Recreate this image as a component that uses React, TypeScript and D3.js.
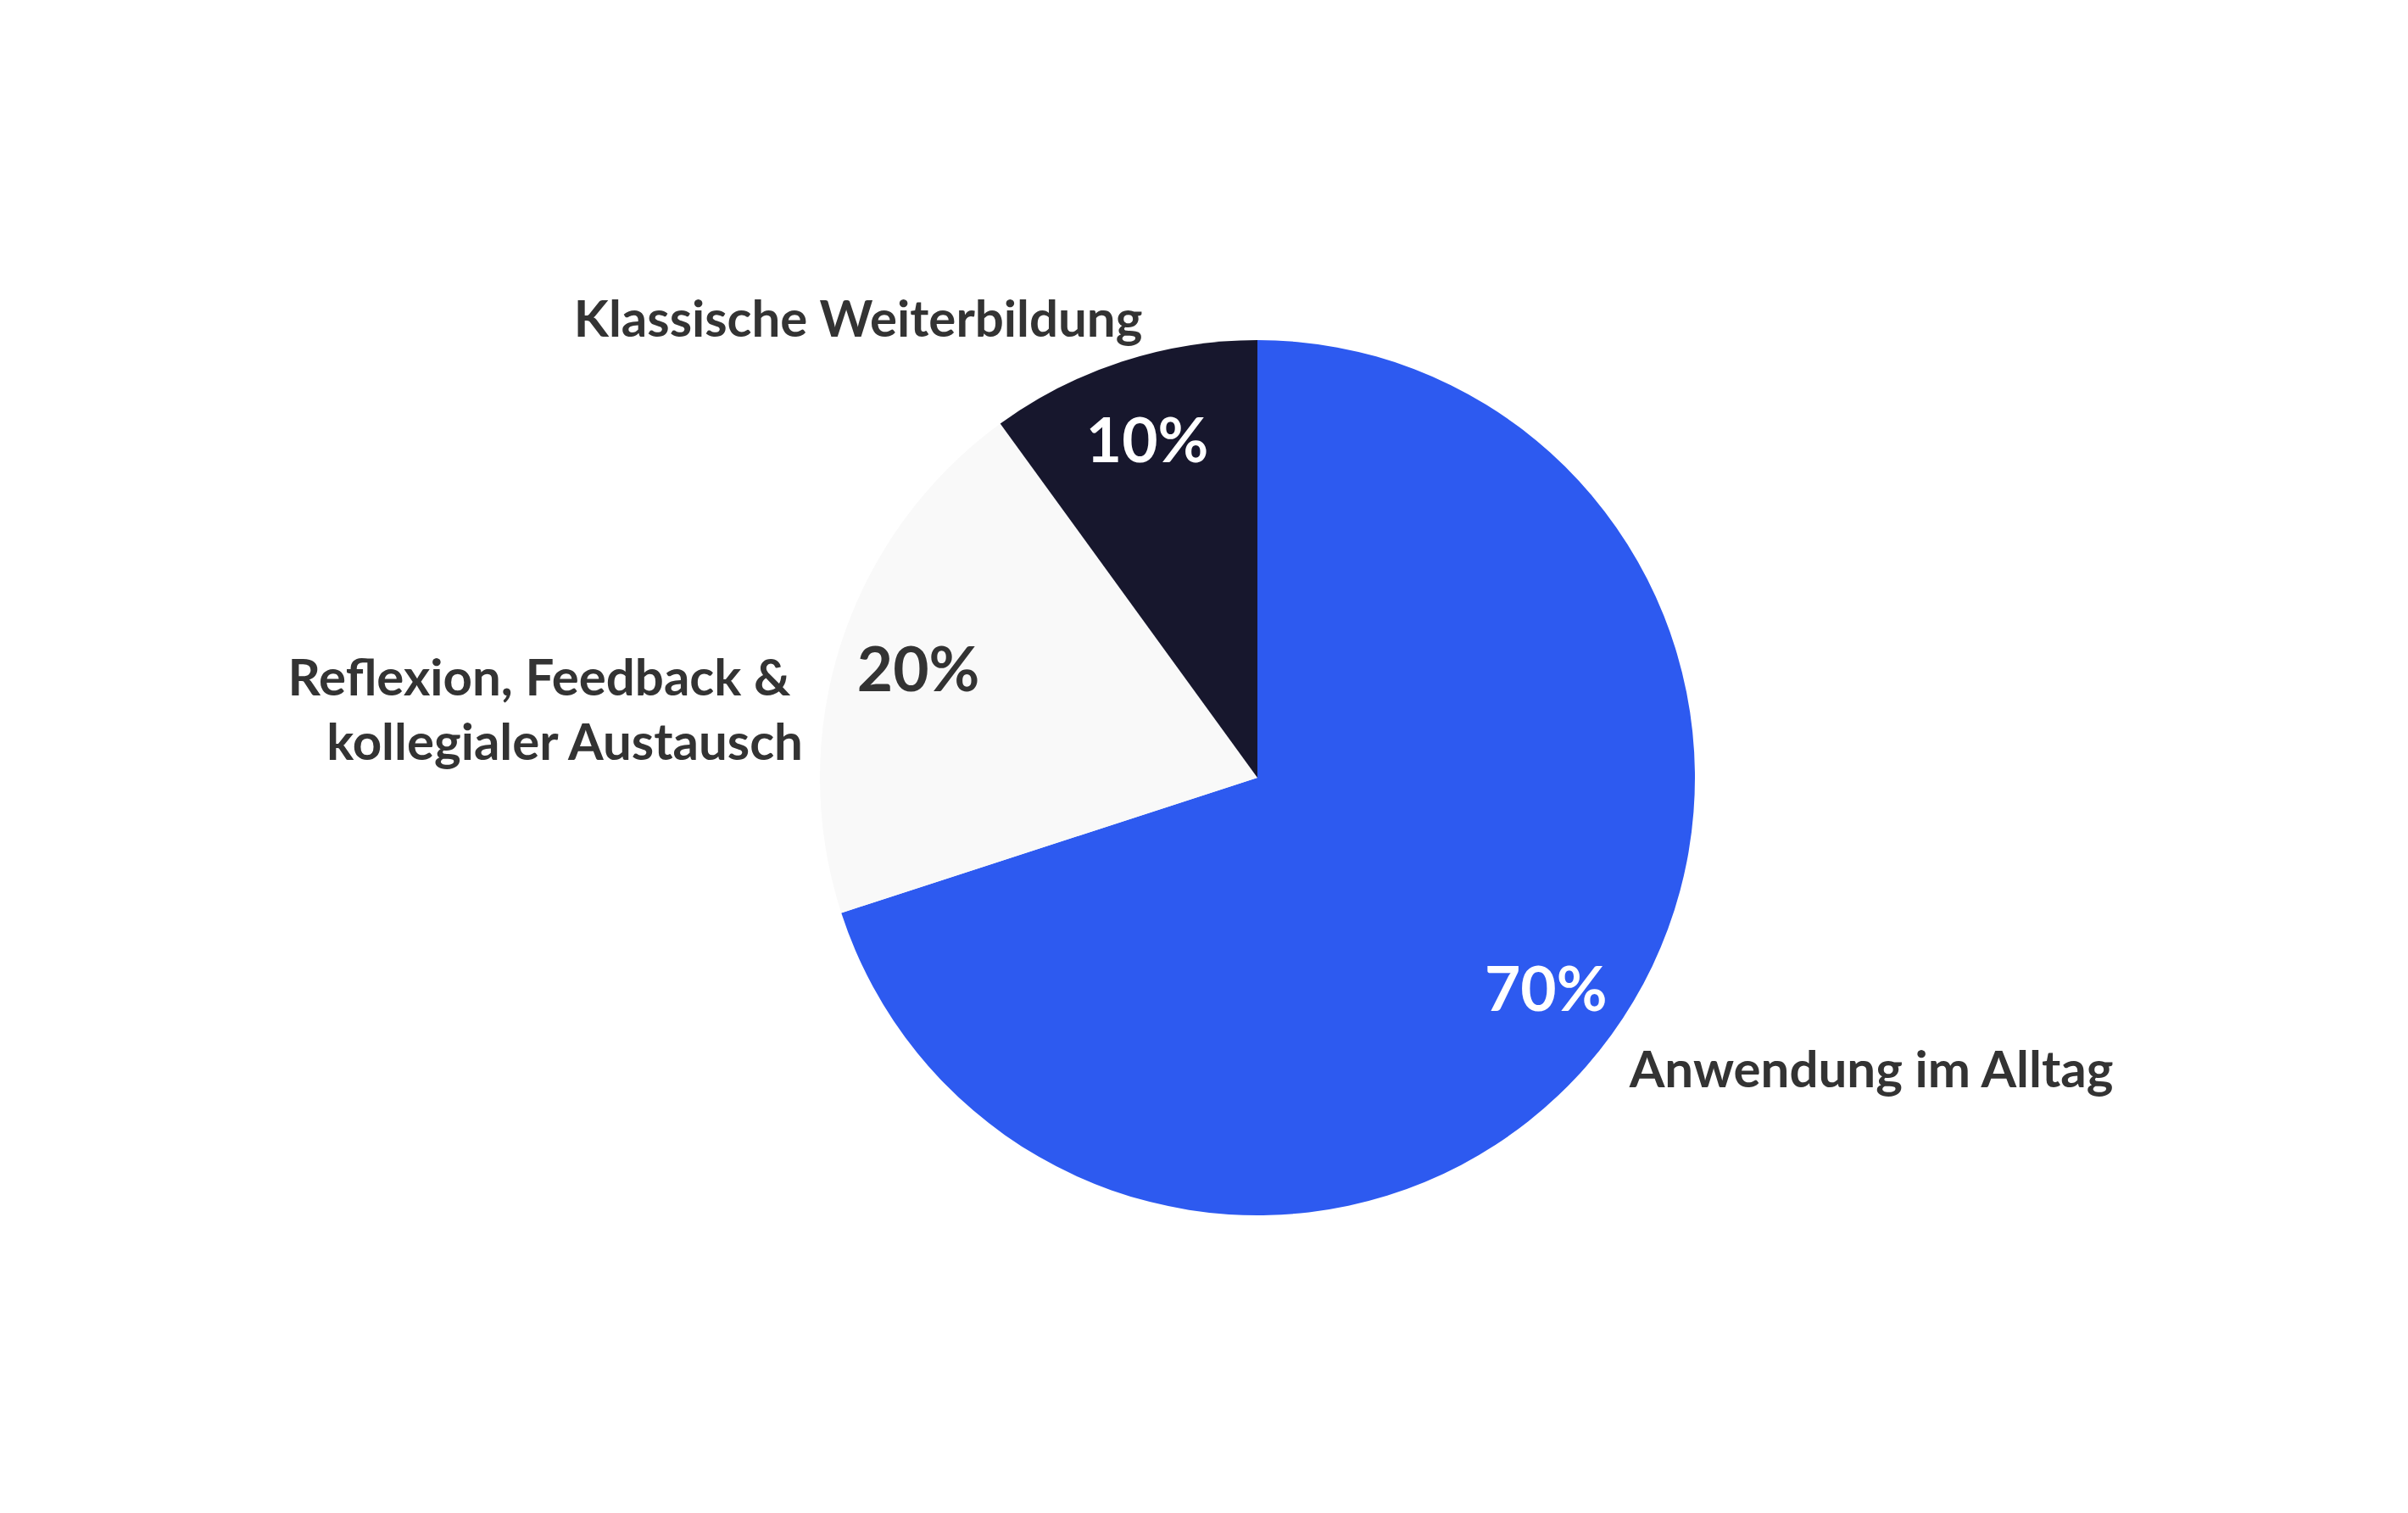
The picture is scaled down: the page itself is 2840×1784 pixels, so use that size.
import React, { useEffect, useRef } from "react";
import * as d3 from "d3";

// Slice data (clockwise from 12 o'clock)
const categories = ["Anwendung im Alltag", "Reflexion, Feedback & kollegialer Austausch", "Klassische Weiterbildung"];
const shares = [70, 20, 10];
const sliceColors = ["#2D5AF0", "#F9F9F9", "#17172D"];
const valueColors = ["#FFFFFF", "#333333", "#FFFFFF"];
const labelLines = [["Anwendung im Alltag"], ["Reflexion, Feedback & ", "kollegialer Austausch"], ["Klassische Weiterbildung"]];
// nudges for outer labels, relative to the outer label point
const labelNudge = [
  { dx: -8, dy: 17 },
  { dx: -11, dy: 89 },
  { dx: 35, dy: -18 },
];

const WIDTH = 2840;
const HEIGHT = 1784;
const FONT = "Lato, 'Open Sans', sans-serif";

const App: React.FC = () => {
  const svgRef = useRef<SVGSVGElement | null>(null);

  useEffect(() => {
    if (!svgRef.current) return;
    const root = d3.select(svgRef.current);
    root.selectAll("*").remove();

    const cx = 1483;
    const cy = 917;
    const radius = 516;

    const data = categories.map((c, i) => ({ name: c, value: shares[i], i }));

    const pie = d3
      .pie<(typeof data)[0]>()
      .sort(null)
      .value((d) => d.value);
    const arcs = pie(data);

    const arc = d3
      .arc<d3.PieArcDatum<(typeof data)[0]>>()
      .innerRadius(0)
      .outerRadius(radius);

    const valueArc = d3
      .arc<d3.PieArcDatum<(typeof data)[0]>>()
      .innerRadius(radius * 0.815)
      .outerRadius(radius * 0.815);

    const outerArc = d3
      .arc<d3.PieArcDatum<(typeof data)[0]>>()
      .innerRadius(radius * 1.07)
      .outerRadius(radius * 1.07);

    const g = root.append("g").attr("transform", `translate(${cx},${cy})`);

    g.selectAll("path.slice")
      .data(arcs)
      .enter()
      .append("path")
      .attr("class", "slice")
      .attr("d", arc)
      .attr("fill", (d) => sliceColors[d.data.i]);

    // percentage inside slices
    g.selectAll("text.value")
      .data(arcs)
      .enter()
      .append("text")
      .attr("class", "value")
      .attr("transform", (d) => `translate(${valueArc.centroid(d)})`)
      .attr("text-anchor", "middle")
      .attr("dominant-baseline", "central")
      .attr("font-family", FONT)
      .attr("font-weight", 700)
      .attr("font-size", 73)
      .attr("fill", (d) => valueColors[d.data.i])
      .text((d) => `${d.data.value}%`);

    // category labels outside
    arcs.forEach((d) => {
      const [px, py] = outerArc.centroid(d);
      const mid = (d.startAngle + d.endAngle) / 2;
      const anchor = mid < Math.PI ? "start" : "end";
      const nudge = labelNudge[d.data.i];
      const lines = labelLines[d.data.i];
      const lineHeight = 76;
      const text = g
        .append("text")
        .attr("x", px + nudge.dx)
        .attr("y", py + nudge.dy - ((lines.length - 1) * lineHeight) / 2)
        .attr("text-anchor", anchor)
        .attr("dominant-baseline", "central")
        .attr("font-family", FONT)
        .attr("font-weight", 700)
        .attr("font-size", 60)
        .attr("fill", "#333333")
        .style("white-space", "pre");
      lines.forEach((line, k) => {
        text
          .append("tspan")
          .attr("x", px + nudge.dx)
          .attr("dy", k === 0 ? 0 : lineHeight)
          .text(line);
      });
    });
  }, []);

  return (
    <div style={{ position: "absolute", left: 0, top: 0, width: WIDTH, height: HEIGHT, background: "#FFFFFF" }}>
      <svg ref={svgRef} width={WIDTH} height={HEIGHT} viewBox={`0 0 ${WIDTH} ${HEIGHT}`} />
    </div>
  );
};

export default App;
